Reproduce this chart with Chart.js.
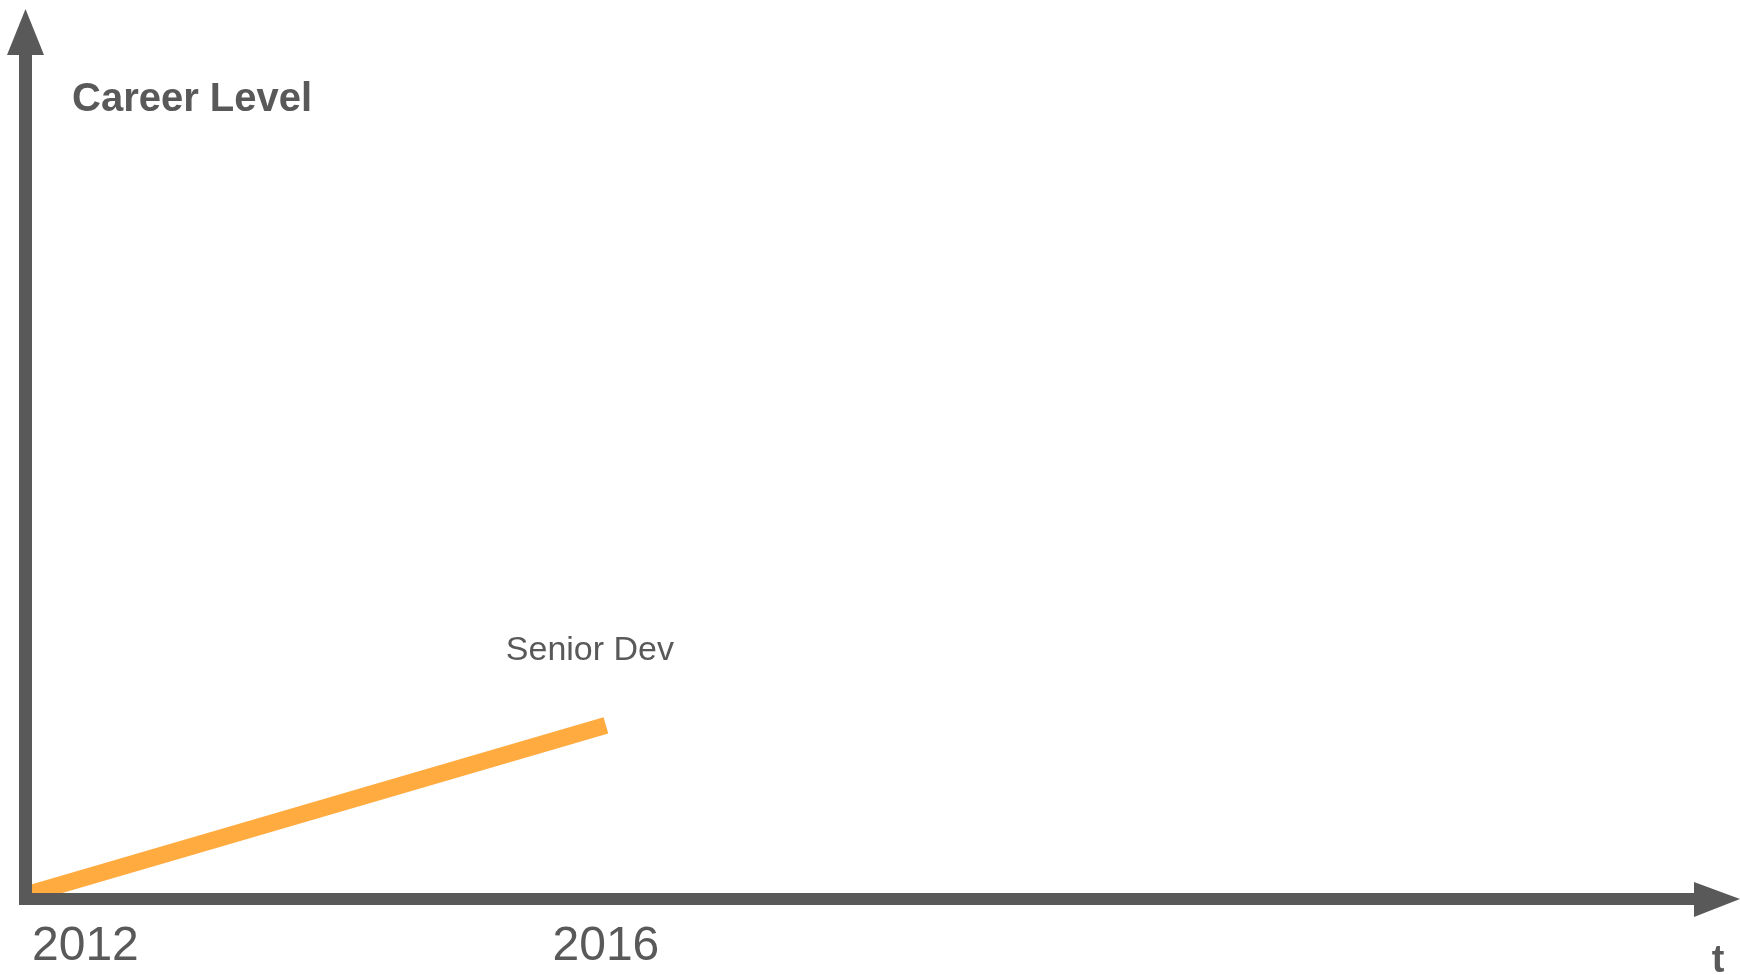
<!DOCTYPE html>
<html>
<head>
<meta charset="utf-8">
<script src="https://cdn.jsdelivr.net/npm/chart.js@4/dist/chart.umd.min.js"></script>
<style>
  body { margin: 0; background: #fff; }
  canvas { display: block; }
</style>
</head>
<body>
<canvas id="careerChart" width="1740" height="975"></canvas>
<script>
// data
const years = [2012, 2016];
const levels = [0, 2];
const roles = ["", "Senior Dev"];
const tickYears = [2012, 2016];

const gray = "#595959";
const orange = "#FFAB40";
const fontFamily = "'Liberation Sans', Arial, sans-serif";

// axes with arrow heads + texts inside the plot
const axesPlugin = {
    id: "axesPlugin",
    afterDatasetsDraw(chart) {
        const { ctx, chartArea } = chart;
        const { left, top, bottom } = chartArea;
        ctx.save();
        ctx.fillStyle = gray;
        // vertical axis
        ctx.fillRect(left - 13, top, 13, bottom - top + 12);
        ctx.beginPath();
        ctx.moveTo(left - 25, top);
        ctx.lineTo(left - 6.5, 9);
        ctx.lineTo(left + 12, top);
        ctx.closePath();
        ctx.fill();
        // horizontal axis
        ctx.fillRect(left - 13, bottom, 1694 - left + 13, 12);
        ctx.beginPath();
        ctx.moveTo(1694, bottom - 11);
        ctx.lineTo(1740, bottom + 6);
        ctx.lineTo(1694, bottom + 24);
        ctx.closePath();
        ctx.fill();
        ctx.restore();
    },
    afterDraw(chart) {
        const { ctx, chartArea, scales } = chart;
        ctx.save();
        ctx.fillStyle = gray;
        ctx.textBaseline = "alphabetic";

        ctx.font = "bold 40px " + fontFamily;
        ctx.textAlign = "left";
        ctx.fillText("Career Level", chartArea.left + 40, 111);

        ctx.font = "bold 38px " + fontFamily;
        ctx.textAlign = "center";
        ctx.fillText("t", 1718, 972);

        // role labels above the line points
        ctx.font = "34px " + fontFamily;
        years.forEach((yr, i) => {
            if (!roles[i]) return;
            const px = scales.x.getPixelForValue(yr);
            const py = scales.y.getPixelForValue(levels[i]);
            ctx.fillText(roles[i], px - 16, py - 65);
        });
        ctx.restore();
    }
};

new Chart(document.getElementById("careerChart"), {
    type: "line",
    data: {
        datasets: [
            {
                data: years.map((yr, i) => ({ x: yr, y: levels[i] })),
                borderColor: orange,
                borderWidth: 17,
                borderCapStyle: "butt",
                pointRadius: 0,
                tension: 0,
                clip: 0,
            },
        ],
    },
    options: {
        responsive: false,
        animation: false,
        layout: { padding: { left: 32, top: 55, right: 58, bottom: 0 } },
        plugins: { legend: { display: false }, tooltip: { enabled: false } },
        scales: {
            x: {
                type: "linear",
                min: 2012,
                max: 2023.5,
                grid: { display: false, drawTicks: false },
                border: { display: false },
                afterFit: (scale) => {
                    scale.height = 82;
                },
                afterBuildTicks: (axis) => {
                    axis.ticks = tickYears.concat([axis.max]).map((v) => ({ value: v }));
                },
                ticks: {
                    autoSkip: false,
                    maxRotation: 0,
                    align: "inner",
                    padding: 25,
                    color: gray,
                    font: { family: fontFamily, size: 48 },
                    callback: (v) => (tickYears.includes(v) ? String(v) : ""),
                },
            },
            y: {
                display: false,
                min: 0,
                max: 10,
            },
        },
    },
    plugins: [axesPlugin],
});
</script>
</body>
</html>
